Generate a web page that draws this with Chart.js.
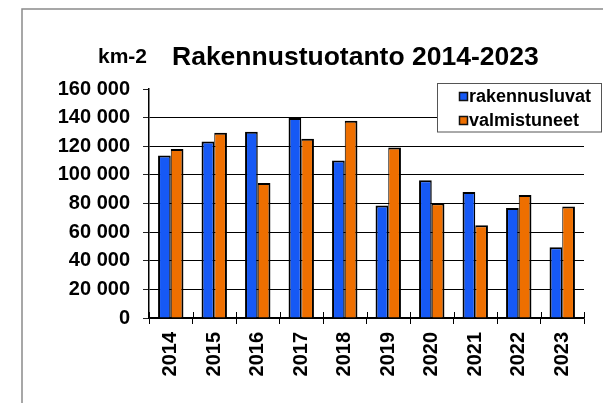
<!DOCTYPE html>
<html>
<head>
<meta charset="utf-8">
<script src="https://cdn.jsdelivr.net/npm/chart.js@4.4.1/dist/chart.umd.min.js"></script>
<style>
  html, body { margin: 0; padding: 0; background: #fff; }
  #wrap { width: 603px; height: 403px; }
</style>
</head>
<body>
<div id="wrap"><canvas id="chart" width="603" height="403"></canvas></div>
<script>
const years = ['2014', '2015', '2016', '2017', '2018', '2019', '2020', '2021', '2022', '2023'];
const rakennusluvat = [113600, 123400, 130100, 139700, 110100, 78600, 96300, 88100, 76900, 49400];
const valmistuneet = [118000, 129400, 94400, 125200, 137800, 119200, 80200, 64800, 86000, 77900];
const yMax = 160000;
const yStep = 20000;

const titleText = 'Rakennustuotanto 2014-2023';
const unitText = 'km-2';

const FONT = '"Liberation Sans", Arial, Helvetica, sans-serif';
Chart.defaults.font.family = FONT;
Chart.defaults.color = '#000';

// frame, title, legend and the small marks above the x axis
const decorPlugin = {
    id: 'decor',
    afterDraw(chart) {
        const ctx = chart.ctx;
        ctx.save();

        // grey outer frame (only top and left fit in the picture)
        ctx.strokeStyle = '#8a8a8a';
        ctx.lineWidth = 1.5;
        ctx.beginPath();
        ctx.moveTo(22, 403);
        ctx.lineTo(22, 9);
        ctx.lineTo(603, 9);
        ctx.stroke();

        // title and unit
        ctx.fillStyle = '#000';
        ctx.textBaseline = 'alphabetic';
        ctx.textAlign = 'left';
        ctx.font = 'bold 21px ' + FONT;
        ctx.fillText(unitText, 98, 63);
        ctx.font = 'bold 26.5px ' + FONT;
        ctx.fillText(titleText, 172, 65);

        // tick marks crossing the x axis upward
        const xs = chart.scales.x;
        const n = years.length;
        ctx.strokeStyle = '#000';
        ctx.lineWidth = 1;
        for (let i = 0; i <= n; i++) {
            const px = Math.round(xs.left + i * xs.width / n) + 0.5;
            ctx.beginPath();
            ctx.moveTo(px, xs.top - 6);
            ctx.lineTo(px, xs.top);
            ctx.stroke();
        }

        // legend box
        ctx.fillStyle = '#fff';
        ctx.fillRect(437.5, 83.5, 164, 48.5);
        ctx.strokeStyle = '#555';
        ctx.lineWidth = 1;
        ctx.strokeRect(437.5, 83.5, 164, 48.5);

        ctx.font = 'bold 18px ' + FONT;
        ctx.textBaseline = 'middle';
        chart.data.datasets.forEach((ds, i) => {
            const y = 97 + i * 24;
            ctx.fillStyle = ds.backgroundColor;
            ctx.fillRect(459.5, y - 4.5, 8, 8);
            ctx.strokeStyle = '#111';
            ctx.lineWidth = 1.5;
            ctx.strokeRect(459.5, y - 4.5, 8, 8);
            ctx.fillStyle = '#000';
            ctx.fillText(ds.label, 469, y);
        });

        ctx.restore();
    }
};

const ctx = document.getElementById('chart').getContext('2d');

new Chart(ctx, {
    type: 'bar',
    data: {
        labels: years,
        datasets: [
            {
                label: 'rakennusluvat',
                data: rakennusluvat,
                backgroundColor: '#1659f5',
                borderColor: '#000',
                borderWidth: { top: 2, left: 2, right: 1.5, bottom: 0 },
                borderSkipped: 'start',
                inflateAmount: 0
            },
            {
                label: 'valmistuneet',
                data: valmistuneet,
                backgroundColor: '#ee6f00',
                borderColor: '#000',
                borderWidth: { top: 2, left: 1, right: 2, bottom: 0 },
                borderSkipped: 'start',
                inflateAmount: 0
            }
        ]
    },
    options: {
        responsive: false,
        animation: false,
        devicePixelRatio: 1,
        categoryPercentage: 0.584,
        barPercentage: 1,
        layout: {
            padding: { left: 0, top: 89, right: 19, bottom: 0 }
        },
        scales: {
            y: {
                min: 0,
                max: yMax,
                afterFit: s => { s.width = 149; },
                ticks: {
                    stepSize: yStep,
                    padding: 13,
                    font: { size: 20, weight: 'bold' },
                    color: '#000',
                    callback: v => String(v).replace(/\B(?=(\d{3})+(?!\d))/g, ' ')
                },
                grid: {
                    color: c => (c.tick && c.tick.value === yMax) ? 'rgba(0,0,0,0)' : '#000',
                    tickColor: '#222',
                    lineWidth: 1,
                    tickLength: 6
                },
                border: { display: true, color: '#000', width: 1.5 }
            },
            x: {
                afterFit: s => { s.height = 85; },
                ticks: {
                    minRotation: 90,
                    maxRotation: 90,
                    padding: 8,
                    font: { size: 20, weight: 'bold' },
                    color: '#000'
                },
                grid: {
                    offset: true,
                    drawOnChartArea: false,
                    tickColor: '#000',
                    tickLength: 6
                },
                border: { display: true, color: '#000', width: 1.5 }
            }
        },
        plugins: {
            legend: { display: false },
            tooltip: { enabled: false },
            title: { display: false }
        }
    },
    plugins: [decorPlugin]
});
</script>
</body>
</html>
